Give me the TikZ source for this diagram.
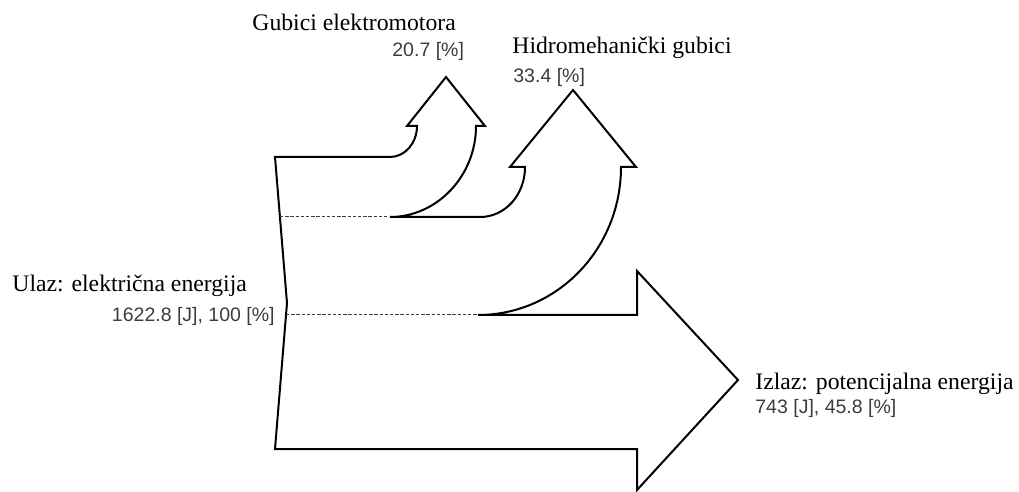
\documentclass[tikz,border=0pt]{standalone}
\usepackage{fontspec}
\setmainfont{Liberation Serif}
\newfontfamily\numfont{Liberation Sans}
\definecolor{numgray}{HTML}{3C3C3C}
\begin{document}
\begin{tikzpicture}
           [x=0.5pt,y=-0.5pt,
            lbl/.style={inner sep=0pt,font=\fontsize{11.85}{14}\selectfont},
            num/.style={inner sep=0pt,text=numgray,font=\numfont\fontsize{9.75}{12}\selectfont},
            split/.style={dash pattern=on 1.7pt off 0.9pt,line width=0.5pt,color=numgray}]
           \useasboundingbox (0,0) rectangle (1019,492);

           \coordinate (T) at (275,157);
           \coordinate (M) at (287,303);
           \coordinate (B) at (275,449);

           \draw[line width=1pt,line join=miter] (T) -- (390,157)
             .. controls (405,157) and (417,143) .. (417,126)
             -- (407,126) -- (446,77) -- (485,126) -- (476,126)
             .. controls (476,176) and (437,217) .. (390,217)
             -- (480,217)
             .. controls (505,217) and (525,195) .. (525,167)
             -- (510,167) -- (573,90) -- (636,167) -- (621,167)
             .. controls (621,249) and (557,315) .. (478,315)
             -- (637,315) -- (637,271) -- (738,380) -- (637,490)
             -- (637,449) -- (B) -- (M) -- cycle;

           \draw[split] (280,217) -- (388,217);
           \draw[split] (286,315) -- (478,315);

           \node[lbl,anchor=base west] (gem) at (252,30.7) {Gubici elektromotora};
           \node[num,anchor=base west] (gemv) at (392,56.7) {20.7 [\%]};
           \node[lbl,anchor=base west] (hmg) at (512,54) {Hidromehanički gubici};
           \node[num,anchor=base west] (hmgv) at (513,83) {33.4 [\%]};
           \node[lbl,anchor=base west] (ulaz) at (12,291.7) {Ulaz: električna energija};
           \node[num,anchor=base east] (ulazv) at (275,321.7) {1622.8 [J], 100 [\%]};
           \node[lbl,anchor=base west] (izlaz) at (755,389) {Izlaz: potencijalna energija};
           \node[num,anchor=base west] (izlazv) at (755,413) {743 [J], 45.8 [\%]};
         \end{tikzpicture}
\end{document}
